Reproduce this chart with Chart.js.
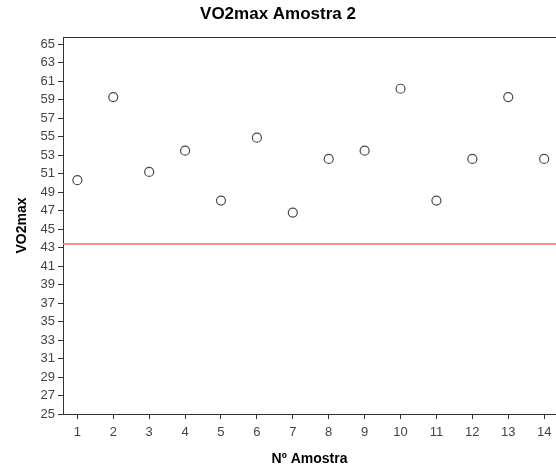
<!DOCTYPE html>
<html>
<head>
<meta charset="utf-8">
<script src="https://cdn.jsdelivr.net/npm/chart.js@4/dist/chart.umd.min.js"></script>
<style>
  body { margin: 0; background: #fff; }
</style>
</head>
<body>
<canvas id="myChart" width="556" height="466"></canvas>
<script>
// --- DATA ---
const amostras = [1, 2, 3, 4, 5, 6, 7, 8, 9, 10, 11, 12, 13, 14];
const vo2max = [50.3, 59.3, 51.2, 53.5, 48.1, 54.9, 46.8, 52.6, 53.5, 60.2, 48.1, 52.6, 59.3, 52.6];
const referenceValue = 43.4;
const yTicks = [25, 27, 29, 31, 33, 35, 37, 39, 41, 43, 45, 47, 49, 51, 53, 55, 57, 59, 61, 63, 65];
const xTicks = [1, 2, 3, 4, 5, 6, 7, 8, 9, 10, 11, 12, 13, 14];
// ------------

const FONT = "'Liberation Sans', Arial, sans-serif";
const AXIS_COLOR = "#333333";

// --- plugin: red reference line + top frame line ---
const refLine = {
  id: "refLine",
  afterDatasetsDraw(chart, args, options) {
    const { ctx, chartArea: { top, left, right }, scales: { y } } = chart;
    ctx.save();
    // top border
    ctx.strokeStyle = AXIS_COLOR;
    ctx.lineWidth = 1;
    ctx.beginPath();
    ctx.moveTo(left, top + 0.5);
    ctx.lineTo(right, top + 0.5);
    ctx.stroke();
    // reference line
    const yPos = y.getPixelForValue(options.value);
    ctx.strokeStyle = options.color;
    ctx.lineWidth = 1.5;
    ctx.beginPath();
    ctx.moveTo(left, yPos);
    ctx.lineTo(right, yPos);
    ctx.stroke();
    ctx.restore();
  },
};

const config = {
  type: "scatter",
  data: {
    datasets: [
      {
        label: "VO2max",
        data: amostras.map((a, i) => ({ x: a, y: vo2max[i] })),
        pointRadius: 4.5,
        pointHoverRadius: 4.5,
        pointBorderWidth: 1.2,
        pointBorderColor: "#4a4a4a",
        pointBackgroundColor: "rgba(255,255,255,0)",
      },
    ],
  },
  options: {
    responsive: false,
    animation: false,
    layout: { padding: 0, autoPadding: false },
    plugins: {
      legend: { display: false },
      tooltip: { enabled: false },
      title: {
        display: true,
        text: "VO2max Amostra 2",
        color: "#000",
        font: { family: FONT, size: 17, weight: "bold" },
        padding: { top: 4, bottom: 12.6 },
      },
      refLine: { value: referenceValue, color: "#ef6f6f" },
    },
    scales: {
      x: {
        type: "linear",
        min: 0.6,
        max: 14.33,
        afterBuildTicks: (axis) => {
          axis.ticks = xTicks.map((v) => ({ value: v }));
        },
        afterFit: (scale) => {
          scale.height = 52;
          scale.paddingLeft = 0;
          scale.paddingRight = 0;
        },
        grid: {
          display: true,
          drawOnChartArea: false,
          drawTicks: true,
          tickLength: 5,
          color: AXIS_COLOR,
        },
        border: { display: true, color: AXIS_COLOR, width: 1 },
        ticks: {
          color: "#444",
          font: { family: FONT, size: 13 },
          padding: 6,
          maxRotation: 0,
          autoSkip: false,
        },
        title: {
          display: true,
          text: "Nº Amostra",
          color: "#000",
          font: { family: FONT, size: 14, weight: "bold", lineHeight: 1 },
          padding: 0,
        },
      },
      y: {
        type: "linear",
        min: 25,
        max: 65.8,
        afterBuildTicks: (axis) => {
          axis.ticks = yTicks.map((v) => ({ value: v }));
        },
        afterFit: (scale) => {
          scale.width = 63;
        },
        grid: {
          display: true,
          drawOnChartArea: false,
          drawTicks: true,
          tickLength: 5,
          color: AXIS_COLOR,
        },
        border: { display: true, color: AXIS_COLOR, width: 1 },
        ticks: {
          color: "#444",
          font: { family: FONT, size: 13 },
          padding: 3,
          autoSkip: false,
        },
        title: {
          display: true,
          text: "VO2max",
          color: "#000",
          font: { family: FONT, size: 14, weight: "bold" },
          padding: { top: 14, bottom: 0 },
        },
      },
    },
  },
  plugins: [refLine],
};

const myChart = new Chart(document.getElementById("myChart"), config);
</script>
</body>
</html>
